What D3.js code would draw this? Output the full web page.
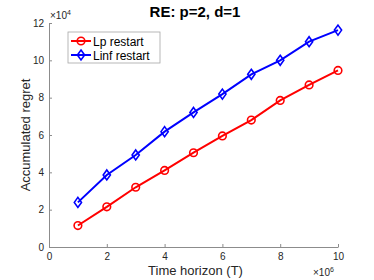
<!DOCTYPE html>
<html>
<head>
    <script src="https://d3js.org/d3.v7.min.js"></script>
    <style>
        body { margin: 0; background: #fff; }
        svg { font-family: "Liberation Sans", Arial, sans-serif; }
        .tick text { fill: #262626; font-size: 10px; }
        .axis path, .axis line { stroke: #8c8c8c; }
    </style>
</head>
<body>
    <svg width="374" height="280"></svg>
    <script>
        const horizon = [1, 2, 3, 4, 5, 6, 7, 8, 9, 10];
        const lpRestart = [1.15, 2.15, 3.2, 4.1, 5.05, 5.95, 6.8, 7.85, 8.68, 9.46];
        const linfRestart = [2.39, 3.86, 4.93, 6.18, 7.21, 8.19, 9.25, 10.0, 11.0, 11.62];
        const xTicks = [0, 2, 4, 6, 8, 10];
        const yTicks = [0, 2, 4, 6, 8, 10, 12];

        const margin = {top: 23, right: 36, bottom: 33, left: 49};
        const width = 374 - margin.left - margin.right;
        const height = 280 - margin.top - margin.bottom;

        const svg = d3.select('svg');
        const g = svg.append('g')
            .attr('transform', `translate(${margin.left},${margin.top})`);

        const x = d3.scaleLinear().domain([0, 10]).range([0, width]);
        const y = d3.scaleLinear().domain([0, 12]).range([height, 0]);

        g.append('g')
            .attr('class', 'axis')
            .attr('transform', `translate(0,${height})`)
            .call(d3.axisBottom(x).tickValues(xTicks).tickSizeInner(-3).tickSizeOuter(0).tickPadding(6));

        g.append('g')
            .attr('class', 'axis')
            .call(d3.axisLeft(y).tickValues(yTicks).tickSizeInner(-3).tickSizeOuter(0).tickPadding(5));

        const line = d3.line()
            .x((d, i) => x(horizon[i]))
            .y(d => y(d));

        const series = [
            {name: 'Lp restart', values: lpRestart, color: '#ff0000', marker: 'circle'},
            {name: 'Linf restart', values: linfRestart, color: '#0000ff', marker: 'diamond'}
        ];

        function drawMarker(sel, s, cx, cy) {
            if (s.marker === 'circle') {
                sel.append('circle')
                    .attr('cx', cx).attr('cy', cy).attr('r', 3.8)
                    .attr('fill', 'none').attr('stroke', s.color).attr('stroke-width', 1.6);
            } else {
                sel.append('path')
                    .attr('d', `M${cx},${cy - 5}L${cx + 3.6},${cy}L${cx},${cy + 5}L${cx - 3.6},${cy}Z`)
                    .attr('fill', 'none').attr('stroke', s.color).attr('stroke-width', 1.6);
            }
        }

        series.forEach(s => {
            g.append('path')
                .attr('d', line(s.values))
                .attr('fill', 'none')
                .attr('stroke', s.color)
                .attr('stroke-width', 2);
            s.values.forEach((v, i) => drawMarker(g, s, x(horizon[i]), y(v)));
        });

        // exponent labels
        g.append('text')
            .attr('x', 1).attr('y', -4)
            .attr('font-size', 10).attr('fill', '#262626')
            .html('×10<tspan dy="-4" font-size="7">4</tspan>');
        g.append('text')
            .attr('x', width - 25).attr('y', height + 29)
            .attr('font-size', 10).attr('fill', '#262626')
            .html('×10<tspan dy="-4" font-size="7">6</tspan>');

        // title and axis labels
        svg.append('text')
            .attr('x', 195).attr('y', 17)
            .attr('text-anchor', 'middle')
            .attr('font-size', 15).attr('font-weight', 'bold')
            .attr('fill', '#000')
            .text('RE: p=2, d=1');

        svg.append('text')
            .attr('x', 195.5).attr('y', 275)
            .attr('text-anchor', 'middle')
            .attr('font-size', 13).attr('fill', '#262626')
            .text('Time horizon (T)');

        svg.append('text')
            .attr('transform', `translate(30,${margin.top + height / 2}) rotate(-90)`)
            .attr('text-anchor', 'middle')
            .attr('font-size', 13).attr('fill', '#262626')
            .text('Accumulated regret');

        // legend
        const legend = svg.append('g').attr('transform', 'translate(68,32)');
        legend.append('rect')
            .attr('width', 92).attr('height', 31)
            .attr('fill', '#fff').attr('stroke', '#a6a6a6').attr('stroke-width', 0.8);
        series.forEach((s, i) => {
            const ly = 9 + i * 14;
            legend.append('line')
                .attr('x1', 3).attr('x2', 23).attr('y1', ly).attr('y2', ly)
                .attr('stroke', s.color).attr('stroke-width', 2);
            drawMarker(legend, s, 13, ly);
            legend.append('text')
                .attr('x', 25).attr('y', ly + 4.5)
                .attr('font-size', 12).attr('fill', '#000')
                .text(s.name);
        });
    </script>
</body>
</html>
